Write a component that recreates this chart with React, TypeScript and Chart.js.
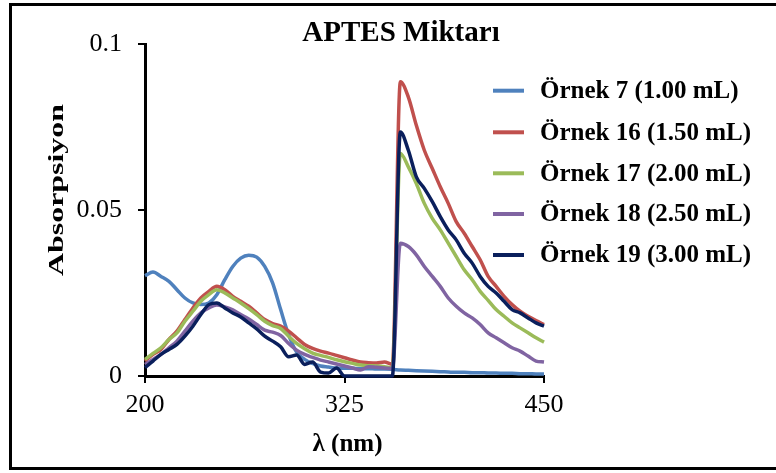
import React, { useEffect, useRef } from 'react';
import { Chart, registerables } from 'chart.js';

Chart.register(...registerables);

const wavelengths = [
  200, 205, 210, 215, 220, 225, 230, 235, 240, 245,
  250, 255, 260, 265, 270, 275, 280, 285, 290, 295,
  300, 305, 310, 315, 320, 325, 330, 335, 340, 345,
  350, 355, 360, 365, 370, 375, 380, 385, 390, 395,
  400, 405, 410, 415, 420, 425, 430, 435, 440, 445, 450,
];

const ornek7 = [
  0.0302, 0.0313, 0.0300, 0.0285, 0.0260, 0.0235, 0.0220, 0.0215, 0.0220, 0.0245,
  0.0290, 0.0330, 0.0355, 0.0364, 0.0358, 0.0330, 0.0280, 0.0200, 0.0124, 0.0072,
  0.0050, 0.0038, 0.0030, 0.0027, 0.0024, 0.0023, 0.0023, 0.0022, 0.0022, 0.0021,
  0.0021, 0.0020, 0.0018, 0.0017, 0.0016, 0.0015, 0.0014, 0.0013, 0.0012, 0.0011,
  0.0011, 0.0010, 0.0010, 0.0009, 0.0009, 0.0008, 0.0008, 0.0007, 0.0007, 0.0006, 0.0006,
];

const ornek16 = [
  0.0045, 0.0065, 0.0080, 0.0110, 0.0135, 0.0170, 0.0205, 0.0235, 0.0255, 0.0270,
  0.0260, 0.0240, 0.0225, 0.0210, 0.0190, 0.0170, 0.0158, 0.0150, 0.0135, 0.0115,
  0.0095, 0.0083, 0.0075, 0.0069, 0.0062, 0.0055, 0.0048, 0.0042, 0.0040, 0.0039,
  0.0042, 0.0035, 0.0886, 0.0840, 0.0755, 0.0680, 0.0625, 0.0570, 0.0520, 0.0465,
  0.0430, 0.0390, 0.0350, 0.0300, 0.0270, 0.0240, 0.0215, 0.0195, 0.0180, 0.0167, 0.0155,
];

const ornek17 = [
  0.0050, 0.0068, 0.0085, 0.0110, 0.0130, 0.0165, 0.0195, 0.0225, 0.0245, 0.0260,
  0.0250, 0.0235, 0.0220, 0.0203, 0.0185, 0.0165, 0.0152, 0.0143, 0.0120, 0.0098,
  0.0082, 0.0069, 0.0062, 0.0056, 0.0049, 0.0043, 0.0038, 0.0033, 0.0031, 0.0030,
  0.0028, 0.0024, 0.0670, 0.0630, 0.0580, 0.0520, 0.0475, 0.0440, 0.0400, 0.0360,
  0.0320, 0.0290, 0.0255, 0.0228, 0.0200, 0.0180, 0.0160, 0.0145, 0.0130, 0.0115, 0.0102,
];

const ornek18 = [
  0.0035, 0.0050, 0.0065, 0.0085, 0.0105, 0.0135, 0.0165, 0.0190, 0.0205, 0.0214,
  0.0208, 0.0199, 0.0185, 0.0172, 0.0155, 0.0138, 0.0132, 0.0122, 0.0098, 0.0078,
  0.0065, 0.0056, 0.0048, 0.0042, 0.0036, 0.0030, 0.0024, 0.0018, 0.0028, 0.0026,
  0.0024, 0.0022, 0.0400, 0.0390, 0.0365, 0.0330, 0.0300, 0.0270, 0.0235, 0.0210,
  0.0190, 0.0175, 0.0155, 0.0130, 0.0115, 0.0100, 0.0085, 0.0075, 0.0060, 0.0045, 0.0042,
];

const ornek19 = [
  0.0025, 0.0045, 0.0065, 0.0080, 0.0095, 0.0120, 0.0150, 0.0185, 0.0215, 0.0220,
  0.0205, 0.0190, 0.0178, 0.0160, 0.0142, 0.0120, 0.0105, 0.0088, 0.0058, 0.0063,
  0.0035, 0.0042, 0.0012, 0.0009, 0.0024, 0.0000, 0.0000, 0.0000, 0.0000, 0.0000,
  0.0000, 0.0000, 0.0735, 0.0680, 0.0600, 0.0565, 0.0525, 0.0480, 0.0440, 0.0410,
  0.0370, 0.0340, 0.0300, 0.0270, 0.0250, 0.0225, 0.0200, 0.0190, 0.0175, 0.0160, 0.0150,
];

const seriesLabels = [
  'Örnek 7 (1.00 mL)',
  'Örnek 16 (1.50 mL)',
  'Örnek 17 (2.00 mL)',
  'Örnek 18 (2.50 mL)',
  'Örnek 19 (3.00 mL)',
];
const seriesColors = ['#4F81BD', '#C0504D', '#9BBB59', '#8064A2', '#0A1F5C'];

const xTicks = [200, 325, 450];
const yTicks = [0, 0.05, 0.1];

const chartTitle = 'APTES Miktarı';
const xTitle = 'λ (nm)';
const yTitle = 'Absorpsiyon';

const W = 764;
const H = 461;
const FONT = '"Liberation Serif", "Times New Roman", serif';

export default function App() {
  const ref = useRef<HTMLCanvasElement>(null);

  useEffect(() => {
    const canvas = ref.current;
    if (!canvas) return;
    const series = [ornek7, ornek16, ornek17, ornek18, ornek19];

    const overlay = {
      id: 'overlay',
      afterDraw(chart: any) {
        const ctx = chart.ctx as CanvasRenderingContext2D;
        const area = chart.chartArea;
        ctx.save();
        ctx.fillStyle = '#000';
        // title
        ctx.font = `bold 29px ${FONT}`;
        ctx.textAlign = 'center';
        ctx.textBaseline = 'alphabetic';
        ctx.fillText(chartTitle, 389, 35);
        // x title
        ctx.font = `bold 25px ${FONT}`;
        ctx.textBaseline = 'middle';
        ctx.fillText(xTitle, (area.left + area.right) / 2 + 3, 439);
        ctx.restore();

        // y title
        ctx.save();
        ctx.fillStyle = '#000';
        ctx.translate(45, 184);
        ctx.rotate(-Math.PI / 2);
        ctx.scale(1.45, 1);
        ctx.font = `bold 22px ${FONT}`;
        ctx.textAlign = 'center';
        ctx.textBaseline = 'middle';
        ctx.fillText(yTitle, 0, 0);
        ctx.restore();

        // legend
        ctx.save();
        const rows = [84.7, 126.3, 167.3, 208, 249];
        chart.data.datasets.forEach((ds: any, i: number) => {
          const y = rows[i];
          ctx.strokeStyle = ds.borderColor;
          ctx.lineWidth = 4;
          ctx.beginPath();
          ctx.moveTo(481, y);
          ctx.lineTo(512, y);
          ctx.stroke();
          ctx.fillStyle = '#000';
          ctx.font = `bold 25px ${FONT}`;
          ctx.textAlign = 'left';
          ctx.textBaseline = 'middle';
          ctx.fillText(ds.label, 528, y + 1);
        });
        ctx.restore();
      },
    };

    const chart = new Chart(canvas, {
      type: 'line',
      data: {
        datasets: series.map((s, i) => ({
          label: seriesLabels[i],
          data: wavelengths.map((x, j) => ({ x, y: s[j] })),
          borderColor: seriesColors[i],
          backgroundColor: seriesColors[i],
          borderWidth: 3.5,
          pointRadius: 0,
          fill: false,
          cubicInterpolationMode: 'monotone' as const,
          order: series.length - i,
          clip: false as any,
        })),
      },
      options: {
        animation: false,
        responsive: false,
        devicePixelRatio: 1,
        layout: { padding: { left: 0, right: 232, top: 38, bottom: 0 } },
        plugins: {
          legend: { display: false },
          title: { display: false },
          tooltip: { enabled: false },
        },
        scales: {
          x: {
            type: 'linear',
            min: 200,
            max: 450,
            afterBuildTicks: (scale: any) => {
              scale.ticks = xTicks.map((v) => ({ value: v }));
            },
            afterFit: (scale: any) => {
              scale.height = 91;
            },
            ticks: {
              color: '#000',
              font: { family: FONT, size: 26 },
              padding: 7,
              maxRotation: 0,
              callback: (v: any) => String(v),
            },
            grid: {
              display: true,
              drawOnChartArea: false,
              drawTicks: true,
              tickLength: 7,
              color: '#000',
              lineWidth: 2,
            },
            border: { display: true, color: '#000', width: 3 },
          },
          y: {
            type: 'linear',
            min: 0,
            max: 0.1,
            afterBuildTicks: (scale: any) => {
              scale.ticks = yTicks.map((v) => ({ value: v }));
            },
            afterFit: (scale: any) => {
              scale.width = 133;
            },
            ticks: {
              color: '#000',
              font: { family: FONT, size: 26 },
              padding: 16,
              callback: (v: any) => String(v),
            },
            grid: {
              display: true,
              drawOnChartArea: false,
              drawTicks: true,
              tickLength: 7,
              color: '#000',
              lineWidth: 2,
            },
            border: { display: true, color: '#000', width: 3 },
          },
        },
      },
      plugins: [overlay],
    } as any);

    return () => chart.destroy();
  }, []);

  return (
    <div
      style={{
        position: 'fixed',
        left: 9,
        top: 3,
        width: 767,
        height: 467,
        border: '3px solid #000',
        borderRight: 'none',
        boxSizing: 'border-box',
        background: '#fff',
      }}
    >
      <canvas ref={ref} width={W} height={H} style={{ display: 'block', width: W, height: H }} />
    </div>
  );
}
